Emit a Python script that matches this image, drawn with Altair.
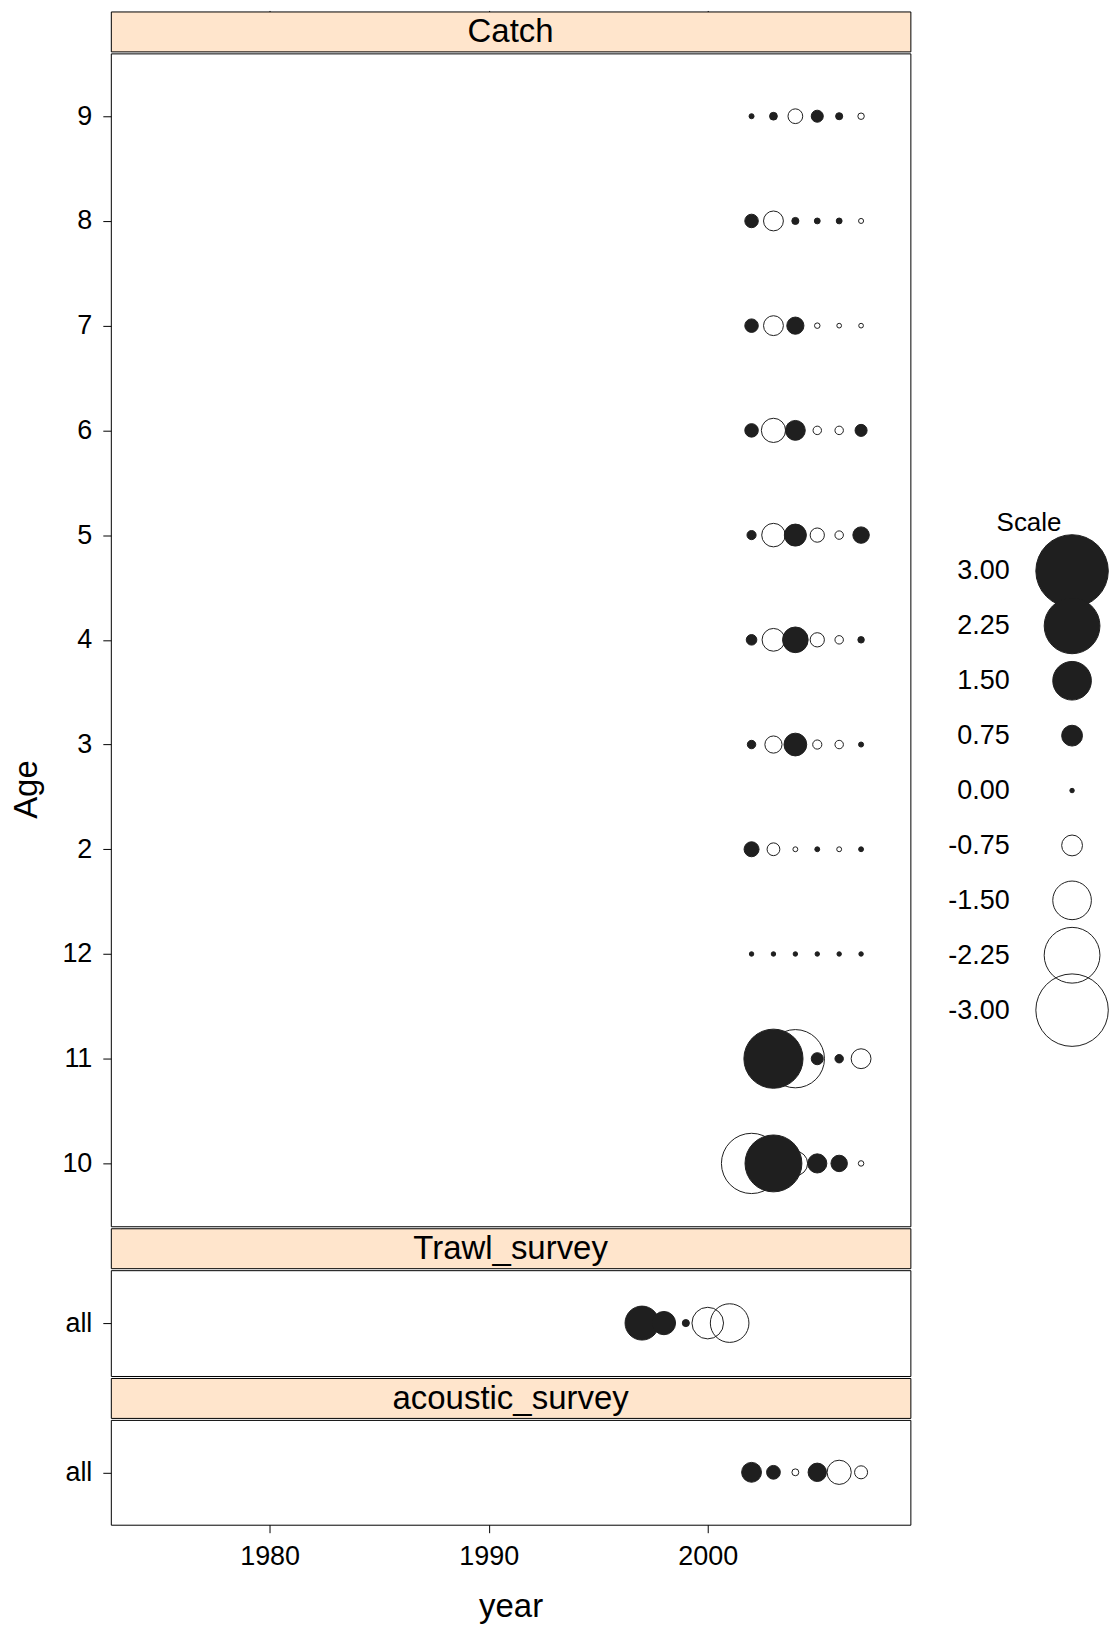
import altair as alt
import pandas as pd

# ---------------- data ----------------
years_catch = [2002, 2003, 2004, 2005, 2006, 2007]
ages_top_to_bottom = ["9", "8", "7", "6", "5", "4", "3", "2", "12", "11", "10"]

resid_age10 = [-2.45, 2.30, -0.90, 0.68, 0.57, -0.10]
resid_age11 = [0.10, 2.40, -2.36, 0.39, 0.24, -0.71]
resid_age12 = [0.00, 0.00, 0.00, 0.00, 0.00, 0.00]
resid_age2 = [0.51, -0.42, -0.06, 0.06, -0.06, 0.06]
resid_age3 = [0.24, -0.60, 0.83, -0.27, -0.24, 0.07]
resid_age4 = [0.33, -0.83, 0.95, -0.48, -0.24, 0.15]
resid_age5 = [0.27, -0.86, 0.80, -0.48, -0.24, 0.57]
resid_age6 = [0.45, -0.89, 0.71, -0.24, -0.24, 0.39]
resid_age7 = [0.45, -0.71, 0.60, -0.10, -0.04, -0.04]
resid_age8 = [0.45, -0.71, 0.18, 0.12, 0.12, -0.07]
resid_age9 = [0.07, 0.21, -0.50, 0.39, 0.18, -0.15]

years_trawl = [1997, 1998, 1999, 2000, 2001]
resid_trawl = [1.30, 0.85, 0.18, -1.20, -1.50]

years_acoustic = [2002, 2003, 2004, 2005, 2006, 2007]
resid_acoustic = [0.71, 0.46, -0.17, 0.65, -0.89, -0.43]

strip_names = ["Catch", "Trawl_survey", "acoustic_survey"]
x_tick_values = [1980, 1990, 2000]
legend_values = [3.00, 2.25, 1.50, 0.75, 0.00, -0.75, -1.50, -2.25, -3.00]
legend_labels = [f"{v:.2f}" for v in legend_values]

# ---------------- tables ----------------
catch_by_age = {
    "10": resid_age10, "11": resid_age11, "12": resid_age12,
    "2": resid_age2, "3": resid_age3, "4": resid_age4, "5": resid_age5,
    "6": resid_age6, "7": resid_age7, "8": resid_age8, "9": resid_age9,
}
rows = []
for age in ["10", "11", "12", "2", "3", "4", "5", "6", "7", "8", "9"]:
    for yr, r in zip(years_catch, catch_by_age[age]):
        rows.append({"year": yr, "age": age, "resid": r})
catch_df = pd.DataFrame(rows)
trawl_df = pd.DataFrame({"year": years_trawl, "age": "all", "resid": resid_trawl})
acoustic_df = pd.DataFrame({"year": years_acoustic, "age": "all", "resid": resid_acoustic})
legend_df = pd.DataFrame({"value": legend_values, "label": legend_labels})

# ---------------- style ----------------
FONT = "Liberation Sans"
INK = "#1f1f1f"
STRIP = "#FFE5CC"
W = 801
H_STRIP = 40
H_CATCH = 1175
H_TRAWL = 106
H_ACOUSTIC = 105

xscale = alt.Scale(domain=[1972.75, 2009.25], nice=False, zero=False)
size_scale = alt.Scale(type="pow", exponent=1.83, domain=[0, 3], range=[20, 5270])


def y_axis(title=None, **kw):
    args = dict(labelFontSize=27, labelFont=FONT, labelColor="black",
                tickSize=8, tickColor="black", labelPadding=11,
                domain=False, grid=False)
    args.update(kw)
    if title is None:
        return alt.Axis(title=None, **args)
    return alt.Axis(title=title, **args)


def bubbles(df, height, y_sort, yax, xax):
    return alt.Chart(df).transform_calculate(
        absr="abs(datum.resid)"
    ).mark_circle(opacity=1, stroke=INK, strokeWidth=1).encode(
        x=alt.X("year:Q", scale=xscale, axis=xax),
        y=alt.Y("age:N", sort=y_sort, scale=alt.Scale(padding=0.6), axis=yax),
        size=alt.Size("absr:Q", scale=size_scale, legend=None),
        fill=alt.condition(alt.datum.resid >= 0, alt.value(INK), alt.value("transparent")),
    ).properties(width=W, height=height)


def strip(name, height, top_axis=False):
    txt = alt.Chart(pd.DataFrame({"label": [name]})).mark_text(
        font=FONT, fontSize=33, color="black", baseline="middle", align="center"
    ).encode(text="label:N", x=alt.value(W / 2), y=alt.value(height / 2 + 1))
    layers = [txt]
    if top_axis:
        ticks = alt.Chart(catch_df).mark_point(opacity=0).encode(
            x=alt.X("year:Q", scale=xscale,
                    axis=alt.Axis(orient="top", values=x_tick_values, labels=False,
                                  tickSize=1, tickColor="black", domain=False,
                                  grid=False, title=None))
        )
        layers = [ticks, txt]
    return alt.layer(*layers).properties(
        width=W, height=height,
        view=alt.ViewBackground(fill=STRIP, stroke="black", strokeWidth=1),
    )


catch_panel = bubbles(
    catch_df, H_CATCH, ages_top_to_bottom,
    y_axis("Age", titleFontSize=33, titleFont=FONT, titleFontWeight="normal",
           titleColor="black", titleY=737, titlePadding=18),
    None,
)
trawl_panel = bubbles(trawl_df, H_TRAWL, ["all"], y_axis(), None)
acoustic_panel = bubbles(
    acoustic_df, H_ACOUSTIC, ["all"], y_axis(),
    alt.Axis(values=x_tick_values, format="d", title="year", titleFontSize=33,
             titleFont=FONT, titleFontWeight="normal", titleColor="black",
             labelFontSize=27, labelFont=FONT, labelColor="black",
             tickSize=8, tickColor="black", labelPadding=11, titlePadding=21,
             domain=False, grid=False, labelFlush=False),
)

left = alt.vconcat(
    strip(strip_names[0], H_STRIP, top_axis=True),
    catch_panel,
    strip(strip_names[1], H_STRIP),
    trawl_panel,
    strip(strip_names[2], H_STRIP),
    acoustic_panel,
    spacing=0,
)

LEG_W = 50
spacer = alt.Chart(pd.DataFrame({"v": [0]})).mark_point(opacity=0).properties(
    width=LEG_W, height=497, view=alt.ViewBackground(stroke="transparent")
)

legend = alt.Chart(legend_df).transform_calculate(
    absr="abs(datum.value)"
).mark_circle(opacity=1, stroke=INK, strokeWidth=1).encode(
    y=alt.Y("label:N", sort=legend_labels, scale=alt.Scale(padding=0.5),
            axis=alt.Axis(title=None, ticks=False, domain=False, labelPadding=38,
                          labelFontSize=27, labelFont=FONT, labelColor="black",
                          grid=False)),
    size=alt.Size("absr:Q", scale=size_scale, legend=None),
    fill=alt.condition(alt.datum.value >= 0, alt.value(INK), alt.value("transparent")),
).properties(
    width=LEG_W, height=495,
    title=alt.TitleParams("Scale", fontSize=26, font=FONT, fontWeight="normal",
                          anchor="middle", frame="bounds", offset=5, dy=8,
                          color="black"),
    view=alt.ViewBackground(stroke="transparent"),
)

right = alt.vconcat(spacer, legend, spacing=0)

chart = alt.hconcat(left, right, spacing=35).properties(
    padding={"left": 2, "top": 0, "right": 0, "bottom": 0}
).configure_view(stroke="black", strokeWidth=1).configure_axis(
    grid=False, domain=False
)

chart.save("out.html", embed_options={"renderer": "svg", "actions": False})
